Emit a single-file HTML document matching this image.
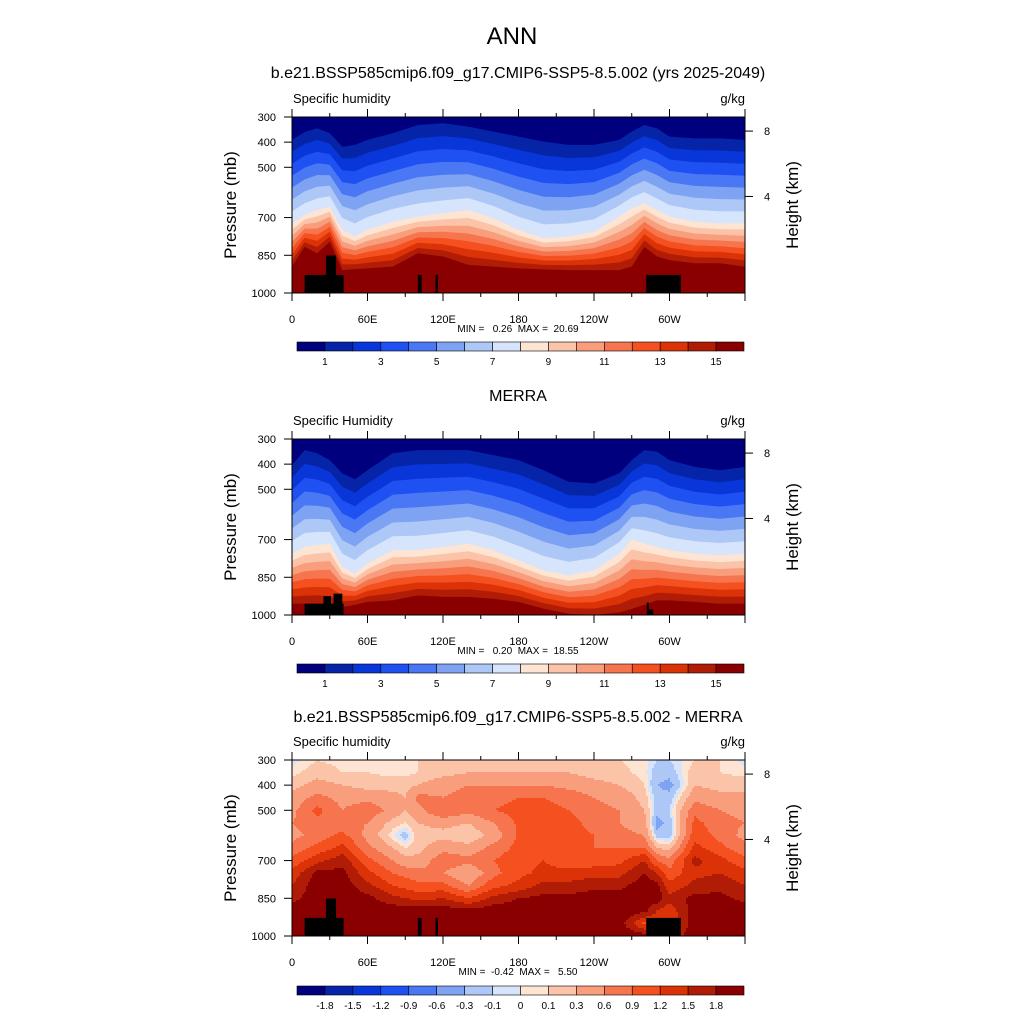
<!DOCTYPE html>
<html><head><meta charset="utf-8"><style>
body{margin:0;background:#fff;}
svg text{font-family:"Liberation Sans",sans-serif;fill:#000;white-space:pre;}
</style></head><body>
<svg id="fig" width="1024" height="1024" viewBox="0 0 1024 1024" xmlns="http://www.w3.org/2000/svg">
<text x="512" y="44" font-size="24" text-anchor="middle">ANN</text>
<text x="518" y="78" font-size="16" text-anchor="middle">b.e21.BSSP585cmip6.f09_g17.CMIP6-SSP5-8.5.002 (yrs 2025-2049)</text>
<text x="518" y="401" font-size="16" text-anchor="middle">MERRA</text>
<text x="518" y="722" font-size="16" text-anchor="middle">b.e21.BSSP585cmip6.f09_g17.CMIP6-SSP5-8.5.002 - MERRA</text>
</svg>
<script>
const NS="http://www.w3.org/2000/svg";
const svg=document.getElementById('fig');
// ---- data ----
const lonNodes=[0,10,20,30,40,50,60,80,100,120,140,160,180,200,220,240,260,270,280,290,300,320,340,360];
const p1Model=[391,360,345,365,418,411,391,365,332,325,338,358,378,398,411,411,391,358,332,345,378,385,385,391];
const p8Model=[723,690,670,657,749,775,749,716,696,683,670,703,749,782,775,756,696,663,643,670,696,716,723,723];
const p15Model=[895,816,842,796,909,905,902,895,842,855,888,895,902,906,909,909,909,895,816,855,869,882,882,895];
const p1Obs=[404,344,357,384,437,460,424,357,344,344,344,364,384,424,470,477,437,384,344,350,384,411,424,411];
const p8Obs=[756,729,722,716,809,835,795,742,742,729,716,742,782,822,842,822,756,700,716,729,742,756,762,756];
const p15Obs=[955,955,955,960,968,960,948,942,922,928,928,935,948,975,995,1000,990,975,960,942,942,948,955,955];
const diffLons=[0,20,40,60,80,90,100,120,140,160,180,200,220,240,260,280,290,300,320,340,360];
const diffPres=[300,350,400,450,500,550,600,650,700,750,800,850,900,950,1000];
const diffVals=[ // rows = lons, cols = pressures
[-0.05,0.05,0.2,0.4,0.5,0.6,0.5,0.7,1.0,1.3,1.5,1.7,2,2,2],
[0.1,0.2,0.4,0.7,1.0,0.8,0.7,1.0,1.4,1.9,2,2,2,2,2],
[0.05,0.1,0.3,0.5,0.6,0.7,1.0,1.3,1.7,1.9,2,2,2,2,2],
[0.1,0.1,0.2,0.5,0.8,0.6,0.5,0.7,1.0,1.3,1.6,1.9,2,2,2],
[0.05,0.05,0.2,0.4,0.5,0.2,0.0,0.3,0.6,0.9,1.2,1.6,2,2,2],
[0.05,0.05,0.2,0.3,0.3,0.1,-0.2,0.1,0.4,0.8,1.1,1.5,2,2,2],
[0.1,0.1,0.3,0.7,0.5,0.3,0.2,0.2,0.4,0.7,1.0,1.4,2,2,2],
[0.2,0.2,0.5,0.6,0.9,0.4,0.2,0.5,0.8,0.6,1.0,1.5,2,2,2],
[0.2,0.3,0.6,0.7,0.7,0.3,0.1,0.4,0.7,0.3,0.6,1.2,1.9,2,2],
[0.2,0.3,0.6,0.8,0.9,0.6,0.4,0.7,0.9,0.8,1.1,1.6,2,2,2],
[0.2,0.3,0.6,0.9,1.0,0.95,0.95,1.0,1.1,1.1,1.3,1.8,2,2,2],
[0.2,0.3,0.6,0.9,1.0,1.0,1.0,1.1,1.2,1.3,1.6,1.9,2,2,2],
[0.15,0.3,0.5,0.8,0.9,1.0,1.0,1.0,1.0,1.3,1.6,1.9,2,2,2],
[0.1,0.2,0.4,0.6,0.7,0.8,0.9,0.9,1.0,1.4,1.7,2,2,2,2],
[0.1,0.15,0.3,0.5,0.6,0.6,0.7,0.9,1.1,1.4,1.7,2,2,2,2],
[0.05,0.05,0.1,0.2,0.3,0.4,0.6,0.9,1.5,1.8,2,2,1.9,1.1,2],
[-0.1,-0.2,-0.3,-0.2,-0.2,-0.4,-0.2,0.3,0.9,1.5,1.9,2,1.5,1.3,1.4],
[-0.1,-0.2,-0.4,-0.2,-0.1,-0.2,-0.2,0.2,0.7,1.0,1.3,1.6,1.3,1.2,1.6],
[0.1,0.2,0.3,0.5,0.8,1.0,1.1,1.3,1.6,1.4,1.6,1.9,2,2,2],
[0.1,0.1,0.2,0.4,0.6,0.7,0.8,1.0,1.3,1.5,1.7,1.9,2,2,2],
[-0.05,0.05,0.2,0.4,0.5,0.6,0.5,0.7,1.0,1.3,1.5,1.7,2,2,2]];
const landModel=[[10,41,928],[27,35,851],[100,103,928],[114,116,928],[281.5,309,928]];
const landObs=[[10,41,955],[25,31,925],[33,40,915],[282,283.5,950],[282,287,978]];
const absLabels=['1','3','5','7','9','11','13','15'];
const diffLabels=['-1.8','-1.5','-1.2','-0.9','-0.6','-0.3','-0.1','0','0.1','0.3','0.6','0.9','1.2','1.5','1.8'];
const diffLevels=[-1.8,-1.5,-1.2,-0.9,-0.6,-0.3,-0.1,0,0.1,0.3,0.6,0.9,1.2,1.5,1.8];
const colors=['#00007f','#0524a8','#0836d8','#1f50f2','#4a78f5','#7ea3f3','#adc7f7','#d6e5fb','#fde4d3','#fbc4a8','#f99e7c','#f7754e','#f5501f','#db3208','#b01c05','#8a0000'];
const lonTicks=[0,60,120,180,240,300];
const lonTickLabels=['0','60E','120E','180','120W','60W'];
const presTicks=[300,400,500,700,850,1000];
const heightTicks=[[8,356],[4,616]];
// ---- helpers ----
const X0=292,X1=745;
function xs(lon){return X0+lon*(X1-X0)/360;}
function mk(tag,attrs,parent){const e=document.createElementNS(NS,tag);for(const k in attrs)e.setAttribute(k,attrs[k]);(parent||svg).appendChild(e);return e;}

function axes(top,sub,minmax,g){
  const ys=p=>top+(p-300)*176/700;
  mk('rect',{x:X0,y:top,width:X1-X0,height:176,fill:'none',stroke:'#000','stroke-width':1},g);
  const t1=mk('text',{x:293,y:top-14,'font-size':13},g);t1.textContent=sub;
  
  
  const t2=mk('text',{x:745,y:top-14,'font-size':13,'text-anchor':'end'},g);t2.textContent='g/kg';
  
  
  presTicks.forEach(p=>{mk('line',{x1:X0-8,x2:X0,y1:ys(p),y2:ys(p),stroke:'#000'},g);
    const t=mk('text',{x:X0-16,y:ys(p)+4,'font-size':11,'text-anchor':'end'},g);t.textContent=p;
    
    });
  for(let lon=0;lon<=360;lon+=30){const big=lon%60===0;const L=big?8:4;
    mk('line',{x1:xs(lon),x2:xs(lon),y1:top+176,y2:top+176+L,stroke:'#000'},g);
    mk('line',{x1:xs(lon),x2:xs(lon),y1:top,y2:top-L,stroke:'#000'},g);}
  lonTicks.forEach((lon,i)=>{const t=mk('text',{x:xs(lon),y:top+206,'font-size':11,'text-anchor':'middle'},g);t.textContent=lonTickLabels[i];
    
    });
  heightTicks.forEach(h=>{mk('line',{x1:X1,x2:X1+8,y1:ys(h[1]),y2:ys(h[1]),stroke:'#000'},g);
    const t=mk('text',{x:X1+19,y:ys(h[1])+4,'font-size':11},g);t.textContent=h[0];
    
    });
  const yl=mk('text',{x:0,y:0,'font-size':17,'text-anchor':'middle',transform:`translate(236,${top+88}) rotate(-90)`},g);yl.textContent='Pressure (mb)';
  
  
  const yr=mk('text',{x:0,y:0,'font-size':17,'text-anchor':'middle',transform:`translate(798,${top+88}) rotate(-90)`},g);yr.textContent='Height (km)';
  
  
  const mm=mk('text',{x:518,y:top+215,'font-size':10,'text-anchor':'middle'},g);mm.textContent=minmax;
  
  
}
function colorbar(top,labels,every,g){
  const w=(744-297)/16;
  for(let i=0;i<16;i++){const r=mk('rect',{x:297+i*w,y:top,width:w,height:9,fill:colors[i],stroke:'#000','stroke-width':0.6},g);
    
    }
  labels.forEach((l,i)=>{const b=every?(i+1):(2*i+1);const t=mk('text',{x:297+b*w,y:top+23,'font-size':10,'text-anchor':'middle'},g);t.textContent=l;
    
    });
}
function land(top,arr,g){const ys=p=>top+(p-300)*176/700;
  arr.forEach(a=>{const r=mk('rect',{x:xs(a[0]),y:ys(a[2]),width:xs(a[1])-xs(a[0]),height:top+176-ys(a[2]),fill:'#000'},g);
    
    });}

function absPanel(top,p1,p8,p15,landArr,sub,minmax,name){
  const g=mk('g',{});
  const ys=p=>top+(p-300)*176/700;
  const cid='clip'+top;const cp=mk('clipPath',{id:cid},g);mk('rect',{x:X0,y:top,width:X1-X0,height:176},cp);
  const cg=mk('g',{'clip-path':`url(#${cid})`},g);
  const bg=mk('rect',{x:X0,y:top,width:X1-X0,height:176,fill:colors[0]},cg);
  
  
  for(let k=1;k<=15;k++){
    let d='';
    lonNodes.forEach((lon,i)=>{const p=k<=8?p1[i]+(k-1)/7*(p8[i]-p1[i]):p8[i]+(k-8)/7*(p15[i]-p8[i]);
      d+=(i?'L':'M')+xs(lon).toFixed(1)+','+ys(p).toFixed(1);});
    d+=`L${X1},${top+180}L${X0},${top+180}Z`;
    const pa=mk('path',{d:d,fill:colors[k]},cg);
    
    
  }
  land(top,landArr,cg);
  axes(top,sub,minmax,g);
  colorbar(top+225,absLabels,false,g);
}
function diffPanel(top){
  const g=mk('g',{});
  const cell=2;
  function val(lon,p){
    let i=0;while(i<diffLons.length-2&&lon>diffLons[i+1])i++;
    let j=0;while(j<diffPres.length-2&&p>diffPres[j+1])j++;
    const tx=(lon-diffLons[i])/(diffLons[i+1]-diffLons[i]),ty=(p-diffPres[j])/(diffPres[j+1]-diffPres[j]);
    const a=diffVals[i][j],b=diffVals[i+1][j],c=diffVals[i][j+1],d=diffVals[i+1][j+1];
    return a*(1-tx)*(1-ty)+b*tx*(1-ty)+c*(1-tx)*ty+d*tx*ty;}
  function ci(v){let k=0;while(k<diffLevels.length&&v>=diffLevels[k])k++;return k;}
  function flush(x0,x1,y,c){
    const r=mk('rect',{x:x0,y:y,width:x1-x0,height:Math.min(cell,top+176-y)+0.3,fill:colors[c]},g);
    
    
  }
  for(let y=top;y<top+176;y+=cell){
    const p=300+(y+cell/2-top)*700/176;
    let runStart=X0,runC=-1;
    for(let x=X0;x<X1;x+=cell){
      const lon=Math.min(360,(x+cell/2-X0)*360/(X1-X0));
      const c=ci(val(lon,p));
      if(c!==runC){if(runC>=0)flush(runStart,x,y,runC);runStart=x;runC=c;}
    }
    if(runC>=0)flush(runStart,X1,y,runC);
  }
  land(top,landModel,g);
  axes(top,'Specific humidity','MIN =  -0.42  MAX =   5.50',g);
  colorbar(top+226,diffLabels,true,g);
}
absPanel(117,p1Model,p8Model,p15Model,landModel,'Specific humidity','MIN =   0.26  MAX =  20.69','model-panel');
absPanel(439,p1Obs,p8Obs,p15Obs,landObs,'Specific Humidity','MIN =   0.20  MAX =  18.55','merra-panel');
diffPanel(760);
</script>
</body></html>
